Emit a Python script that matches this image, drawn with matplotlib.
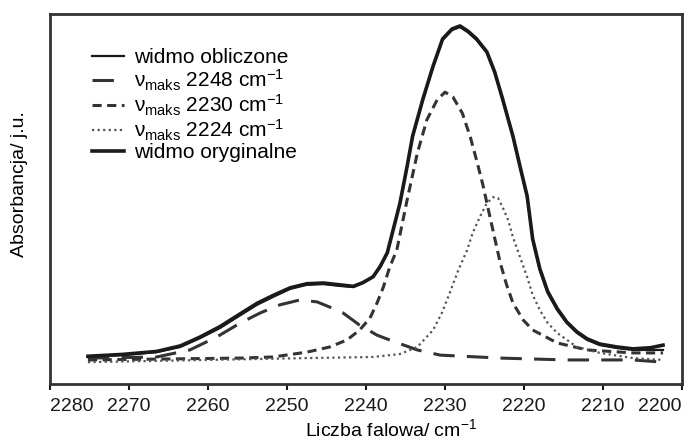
import numpy as np
import matplotlib
matplotlib.use('Agg')
from matplotlib import pyplot as plt

plt.rcParams['font.family'] = ['Liberation Sans', 'DejaVu Sans']
plt.rcParams['mathtext.fontset'] = 'custom'
plt.rcParams['mathtext.rm'] = 'Liberation Sans'
plt.rcParams['mathtext.it'] = 'Liberation Sans:italic'

# widmo obliczone (suma skladowych)
wn_calc = [2275.2, 2270.8, 2266.5, 2263.5, 2261.0, 2258.5, 2255.9, 2253.8, 2251.8, 2249.6,
           2247.5, 2245.4, 2243.3, 2241.6, 2240.4, 2239.1, 2238.2, 2237.3, 2235.7, 2234.8,
           2234.1, 2232.8, 2231.5, 2230.3, 2229.1, 2228.1, 2227.1, 2226.0, 2224.7, 2223.7,
           2222.7, 2221.4, 2220.5, 2219.6, 2218.9, 2218.0, 2217.0, 2215.8, 2214.6, 2213.3,
           2212.0, 2210.4, 2208.2, 2206.2, 2202.4]
abs_calc = [0.073, 0.078, 0.086, 0.100, 0.124, 0.151, 0.186, 0.214, 0.235, 0.257,
            0.268, 0.270, 0.265, 0.262, 0.273, 0.289, 0.316, 0.354, 0.489, 0.586,
            0.668, 0.768, 0.857, 0.930, 0.957, 0.965, 0.951, 0.930, 0.895, 0.841,
            0.768, 0.668, 0.586, 0.505, 0.389, 0.308, 0.246, 0.200, 0.165, 0.138,
            0.119, 0.105, 0.097, 0.092, 0.092]

# widmo oryginalne
wn_orig = [2275.2, 2270.8, 2266.5, 2263.5, 2261.0, 2258.5, 2255.9, 2253.8, 2251.8, 2249.6,
           2247.5, 2245.4, 2243.3, 2241.6, 2240.4, 2239.1, 2238.2, 2237.3, 2235.7, 2234.8,
           2234.1, 2232.8, 2231.5, 2230.3, 2229.1, 2228.1, 2227.1, 2226.0, 2224.7, 2223.7,
           2222.7, 2221.4, 2220.5, 2219.6, 2218.9, 2218.0, 2217.0, 2215.8, 2214.6, 2213.3,
           2212.0, 2210.4, 2208.2, 2206.2, 2204.0, 2202.4]
abs_orig = [0.075, 0.080, 0.088, 0.103, 0.127, 0.155, 0.190, 0.218, 0.239, 0.260,
            0.271, 0.273, 0.268, 0.264, 0.274, 0.290, 0.318, 0.355, 0.489, 0.588,
            0.670, 0.770, 0.860, 0.933, 0.960, 0.968, 0.954, 0.933, 0.898, 0.843,
            0.770, 0.670, 0.588, 0.508, 0.392, 0.312, 0.250, 0.204, 0.168, 0.141,
            0.122, 0.108, 0.100, 0.095, 0.098, 0.105]

# skladowa 2248 cm-1
wn_2248 = [2275.2, 2266.5, 2262.3, 2258.9, 2255.9, 2253.4, 2250.9, 2248.4, 2246.2, 2244.6,
           2242.9, 2240.8, 2238.6, 2237.0, 2233.5, 2230.6, 2223.0, 2214.6, 2206.2, 2202.4]
abs_2248 = [0.070, 0.073, 0.092, 0.127, 0.165, 0.192, 0.214, 0.227, 0.222, 0.208,
            0.192, 0.159, 0.132, 0.119, 0.092, 0.078, 0.070, 0.065, 0.065, 0.059]

# skladowa 2230 cm-1
wn_2230 = [2275.2, 2255.9, 2251.8, 2247.5, 2244.6, 2242.4, 2240.8, 2239.5, 2238.6, 2237.8,
           2237.0, 2236.1, 2234.8, 2233.5, 2232.3, 2231.0, 2230.0, 2229.0, 2227.8, 2226.8,
           2226.0, 2225.2, 2224.3, 2223.0, 2222.2, 2221.4, 2220.1, 2218.9, 2215.8, 2212.0,
           2206.2, 2202.4]
abs_2230 = [0.065, 0.070, 0.073, 0.086, 0.100, 0.119, 0.146, 0.178, 0.219, 0.262,
            0.316, 0.362, 0.497, 0.624, 0.714, 0.768, 0.789, 0.776, 0.732, 0.668,
            0.605, 0.538, 0.451, 0.327, 0.268, 0.219, 0.173, 0.146, 0.111, 0.092,
            0.084, 0.084]

# skladowa 2224 cm-1
wn_2224 = [2275.2, 2247.5, 2239.1, 2235.7, 2233.5, 2231.5, 2230.4, 2229.4, 2228.4, 2227.2,
           2226.5, 2225.6, 2224.7, 2223.9, 2223.3, 2222.7, 2222.0, 2221.4, 2220.5, 2219.6,
           2218.9, 2218.0, 2217.0, 2215.8, 2213.3, 2210.4, 2206.2, 2202.4]
abs_2224 = [0.059, 0.070, 0.073, 0.081, 0.100, 0.146, 0.192, 0.246, 0.303, 0.362,
            0.408, 0.451, 0.489, 0.505, 0.503, 0.478, 0.443, 0.397, 0.343, 0.289,
            0.241, 0.200, 0.165, 0.138, 0.100, 0.084, 0.070, 0.065]

x_ticks = [2280, 2270, 2260, 2250, 2240, 2230, 2220, 2210, 2200]

fig = plt.figure(figsize=(6.89, 4.41), dpi=100)
ax = fig.add_axes([0.0726, 0.1293, 0.9172, 0.8387])

col = '#1a1a1a'
ax.plot(wn_calc, abs_calc, color=col, lw=1.6, label='widmo obliczone')
ax.plot(wn_2248, abs_2248, color='#333333', lw=2.2, dashes=(7, 4), label='ν$_{\\mathrm{maks}}$ 2248 cm$^{-1}$')
ax.plot(wn_2230, abs_2230, color='#333333', lw=2.2, dashes=(3, 1.8), label='ν$_{\\mathrm{maks}}$ 2230 cm$^{-1}$')
ax.plot(wn_2224, abs_2224, color='#555555', lw=1.6, dashes=(1, 1.5), label='ν$_{\\mathrm{maks}}$ 2224 cm$^{-1}$')
ax.plot(wn_orig, abs_orig, color=col, lw=2.6, label='widmo oryginalne')

ax.set_xlim(2280, 2200)
ax.set_ylim(0, 1)
ax.set_xticks(x_ticks)
ax.set_yticks([])
ax.tick_params(axis='x', direction='out', length=4, width=1.5, labelsize=14, pad=6, colors=col)
labels = ax.get_xticklabels()
labels[0].set_horizontalalignment('left')
labels[-1].set_horizontalalignment('right')
for s in ax.spines.values():
    s.set_linewidth(2)
    s.set_color('#333333')

ax.set_xlabel('Liczba falowa/ cm$^{-1}$', fontsize=14)
ax.xaxis.set_label_coords(0.54, -0.092)
ax.set_ylabel('Absorbancja/ j.u.', fontsize=14)
ax.yaxis.set_label_coords(-0.035, 0.54)

ax.legend(loc='upper left', bbox_to_anchor=(0.054, 0.93), frameon=False, fontsize=15,
          handlelength=1.5, handletextpad=0.5, labelspacing=0.0, borderaxespad=0)

fig.savefig('out.png', dpi=100)
